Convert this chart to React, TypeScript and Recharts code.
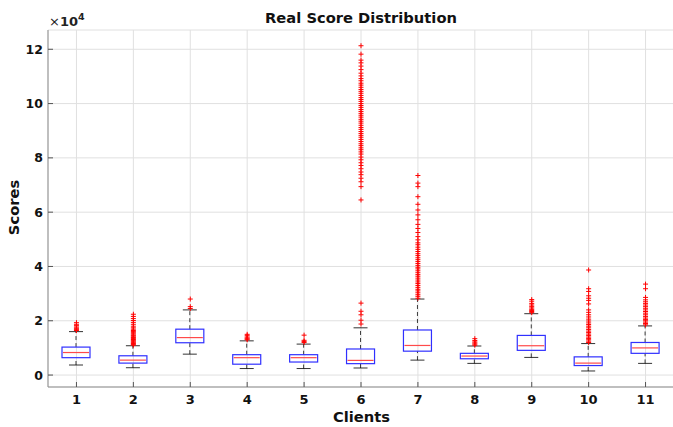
import React from 'react';
import {
  ComposedChart,
  Bar,
  Scatter,
  XAxis,
  YAxis,
  CartesianGrid,
} from 'recharts';

// values in units of 1e4
const clients = ['1', '2', '3', '4', '5', '6', '7', '8', '9', '10', '11'];
const whiskerLow = [0.37, 0.27, 0.77, 0.24, 0.24, 0.26, 0.55, 0.43, 0.65, 0.15, 0.43];
const q1 = [0.64, 0.44, 1.19, 0.40, 0.48, 0.42, 0.88, 0.60, 0.91, 0.35, 0.80];
const median = [0.83, 0.55, 1.38, 0.64, 0.64, 0.54, 1.09, 0.70, 1.08, 0.44, 1.00];
const q3 = [1.03, 0.71, 1.69, 0.75, 0.75, 0.96, 1.66, 0.80, 1.46, 0.67, 1.20];
const whiskerHigh = [1.60, 1.08, 2.40, 1.26, 1.14, 1.74, 2.80, 1.07, 2.26, 1.16, 1.81];

const out1 = [1.64, 1.67, 1.70, 1.73, 1.77, 1.82, 1.87, 1.93];
const out2 = [1.10, 1.13, 1.16, 1.19, 1.22, 1.25, 1.28, 1.31, 1.35, 1.38, 1.41, 1.45, 1.48, 1.52, 1.56, 1.60, 1.64, 1.69, 1.74, 1.80, 1.87, 1.94, 2.01, 2.08, 2.16, 2.24];
const out3 = [2.45, 2.52, 2.80];
const out4 = [1.30, 1.33, 1.36, 1.40, 1.45, 1.50];
const out5 = [1.20, 1.24, 1.28, 1.47];
const out6 = [1.88, 2.02, 2.22, 2.35, 2.65, 6.45, 6.94, 7.12, 7.25, 7.38, 7.48, 7.60, 7.72, 7.82, 7.93, 8.03, 8.14, 8.22, 8.30, 8.37, 8.45, 8.52, 8.60, 8.68, 8.76, 8.83, 8.90, 8.97, 9.05, 9.12, 9.20, 9.28, 9.35, 9.42, 9.50, 9.57, 9.64, 9.71, 9.78, 9.86, 9.93, 10.00, 10.08, 10.15, 10.22, 10.30, 10.38, 10.45, 10.52, 10.60, 10.68, 10.75, 10.84, 10.92, 11.02, 11.12, 11.25, 11.38, 11.50, 11.60, 11.82, 12.13];
const out7 = [2.83, 2.90, 2.96, 3.03, 3.10, 3.16, 3.23, 3.30, 3.37, 3.43, 3.50, 3.57, 3.64, 3.70, 3.77, 3.84, 3.91, 3.97, 4.04, 4.11, 4.18, 4.25, 4.32, 4.40, 4.47, 4.55, 4.63, 4.71, 4.80, 4.87, 4.98, 5.10, 5.25, 5.40, 5.55, 5.72, 5.90, 6.08, 6.29, 6.57, 6.94, 7.07, 7.35];
const out8 = [1.10, 1.14, 1.18, 1.22, 1.27, 1.34];
const out9 = [2.30, 2.34, 2.38, 2.42, 2.47, 2.52, 2.58, 2.64, 2.72, 2.78];
const out10 = [1.20, 1.25, 1.30, 1.35, 1.40, 1.46, 1.51, 1.57, 1.62, 1.68, 1.74, 1.80, 1.86, 1.92, 1.99, 2.06, 2.14, 2.22, 2.31, 2.40, 2.62, 2.75, 2.83, 2.92, 3.08, 3.18, 3.87];
const out11 = [1.85, 1.90, 1.95, 2.00, 2.05, 2.10, 2.16, 2.22, 2.28, 2.34, 2.40, 2.46, 2.52, 2.58, 2.64, 2.70, 2.77, 2.86, 3.18, 3.35];
const outliers = [out1, out2, out3, out4, out5, out6, out7, out8, out9, out10, out11];

const yTicks = [0, 2, 4, 6, 8, 10, 12];
const xTicks = [1, 2, 3, 4, 5, 6, 7, 8, 9, 10, 11];

const boxData = clients.map((c, i) => ({
  client: c,
  span: [whiskerLow[i], whiskerHigh[i]],
  lo: whiskerLow[i],
  q1: q1[i],
  med: median[i],
  q3: q3[i],
  hi: whiskerHigh[i],
}));

const outlierData = clients.flatMap((c, i) => outliers[i].map(v => ({ client: c, value: v })));

const FONT = '"DejaVu Sans", sans-serif';
const AXIS = '#8f8f8f';
const TICK = '#555';

function BoxShape(props: any) {
  const { x, y, width, height, payload } = props;
  const top = Math.min(y, y + height);
  const bot = Math.max(y, y + height);
  const { lo, hi } = payload;
  const py = (v: number) => bot + ((v - lo) * (top - bot)) / (hi - lo);
  const cx = x + width / 2;
  const cap = width / 4;
  return (
    <g>
      <line x1={cx} x2={cx} y1={py(payload.q3)} y2={py(hi)} stroke="#000" strokeDasharray="4 3" strokeWidth={1} opacity={0.75} />
      <line x1={cx} x2={cx} y1={py(lo)} y2={py(payload.q1)} stroke="#000" strokeDasharray="4 3" strokeWidth={1} opacity={0.75} />
      <line x1={cx - cap} x2={cx + cap} y1={py(hi)} y2={py(hi)} stroke="#000" strokeWidth={1} opacity={0.8} />
      <line x1={cx - cap} x2={cx + cap} y1={py(lo)} y2={py(lo)} stroke="#000" strokeWidth={1} opacity={0.8} />
      <rect x={x} y={py(payload.q3)} width={width} height={py(payload.q1) - py(payload.q3)} fill="none" stroke="#3030ff" strokeWidth={1.2} />
      <line x1={x + 1} x2={x + width - 1} y1={py(payload.med)} y2={py(payload.med)} stroke="#ff4a4a" strokeWidth={1.2} />
    </g>
  );
}

function PlusShape(props: any) {
  const { cx, cy } = props;
  return (
    <g stroke="#ff0000" strokeWidth={1}>
      <line x1={cx - 2.5} x2={cx + 2.5} y1={cy} y2={cy} />
      <line x1={cx} x2={cx} y1={cy - 2.5} y2={cy + 2.5} />
    </g>
  );
}

function BottomTick({ x, y, payload }: any) {
  return (
    <g>
      <line x1={x} x2={x} y1={y} y2={y - 5} stroke={TICK} />
      <text x={x} y={y + 17} textAnchor="middle" fontFamily={FONT} fontWeight="bold" fontSize={13} fill="#111">
        {payload.value}
      </text>
    </g>
  );
}

function TopTick({ x, y }: any) {
  return <line x1={x} x2={x} y1={y} y2={y + 5} stroke={TICK} />;
}

function LeftTick({ x, y, payload }: any) {
  return (
    <g>
      <line x1={x} x2={x + 5} y1={y} y2={y} stroke={TICK} />
      <text x={x - 5} y={y + 4.5} textAnchor="end" fontFamily={FONT} fontWeight="bold" fontSize={12.5} fill="#111">
        {payload.value}
      </text>
    </g>
  );
}

function RightTick({ x, y }: any) {
  return <line x1={x} x2={x - 5} y1={y} y2={y} stroke={TICK} />;
}

export default function App() {
  return (
    <div style={{ position: 'absolute', left: 0, top: 0, width: 673, height: 427, overflow: 'hidden', background: '#fff' }}>
      <ComposedChart
        width={676}
        height={427}
        data={boxData}
        margin={{ top: 30, right: 2, bottom: 0, left: 0 }}
      >
        <CartesianGrid stroke="#e0e0e0" />
        <XAxis
          dataKey="client"
          type="category"
          allowDuplicatedCategory={false}
          height={40}
          tickSize={0}
          tickMargin={0}
          tick={<BottomTick />}
          axisLine={{ stroke: AXIS }}
          tickLine={false}
          interval={0}
        />
        <XAxis
          xAxisId="top"
          orientation="top"
          type="number"
          domain={[0.5, 11.5]}
          ticks={xTicks}
          height={0}
          tickSize={0}
          tickMargin={0}
          tick={<TopTick />}
          axisLine={{ stroke: AXIS }}
          tickLine={false}
        />
        <YAxis
          type="number"
          domain={[-0.44, 12.71]}
          ticks={yTicks}
          allowDataOverflow
          width={48}
          tickSize={0}
          tickMargin={0}
          tick={<LeftTick />}
          axisLine={{ stroke: AXIS }}
          tickLine={false}
          interval={0}
        />
        <YAxis
          yAxisId="right"
          orientation="right"
          type="number"
          domain={[-0.44, 12.71]}
          ticks={yTicks}
          allowDataOverflow
          width={0}
          tickSize={0}
          tickMargin={0}
          tick={<RightTick />}
          axisLine={{ stroke: AXIS }}
          tickLine={false}
        />
        <Bar dataKey="span" barSize={28} shape={<BoxShape />} isAnimationActive={false} />
        <Scatter data={outlierData} dataKey="value" shape={<PlusShape />} isAnimationActive={false} />
      </ComposedChart>
      <svg width={673} height={427} style={{ position: 'absolute', left: 0, top: 0, pointerEvents: 'none' }}>
        <text x={361} y={23} textAnchor="middle" fontFamily={FONT} fontWeight="bold" fontSize={14.7} fill="#111">
          Real Score Distribution
        </text>
        <text x={361.5} y={421.5} textAnchor="middle" fontFamily={FONT} fontWeight="bold" fontSize={14.7} fill="#111">
          Clients
        </text>
        <text x={19} y={207.5} transform="rotate(-90 19 207.5)" textAnchor="middle" fontFamily={FONT} fontWeight="bold" fontSize={14.7} fill="#111">
          Scores
        </text>
        <text x={49} y={26} fontFamily={FONT} fontSize={13} fill="#222">
          <tspan>×</tspan>
          <tspan fontWeight="bold">10</tspan>
          <tspan fontSize={9.5} fontWeight="bold" dy={-6}>4</tspan>
        </text>
      </svg>
    </div>
  );
}
